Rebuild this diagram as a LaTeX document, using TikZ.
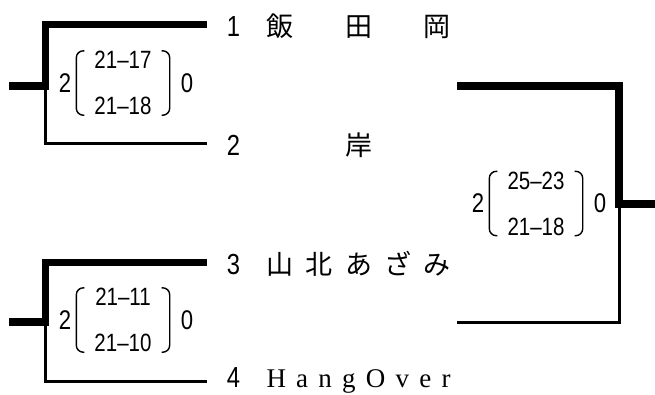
\documentclass[tikz,border=0pt]{standalone}
\usepackage{fontspec}
\usetikzlibrary{positioning}
\newfontfamily\numfont[FakeStretch=0.82]{Liberation Sans}
\newfontfamily\jpfont{Noto Sans CJK JP}
\newfontfamily\enfont{Liberation Serif}
\newcommand{\spreadname}[1]{\makebox[184pt][s]{#1}}
\begin{document}
\begin{tikzpicture}[x=1pt,y=-1pt,
	win/.style={line width=7.5pt},
	lose/.style={line width=3pt},
	seed/.style={anchor=base,inner sep=0,font=\numfont\fontsize{29}{29}\selectfont},
	player/.style={inner sep=0,font=\jpfont\fontsize{27}{27}\selectfont},
	games/.style={inner sep=0,minimum width=93pt,minimum height=64pt,align=center,font=\numfont\fontsize{25}{46}\selectfont},
	sets/.style={inner sep=0,font=\numfont\fontsize{27}{27}\selectfont},
	paren/.style={line width=1.4pt,rounded corners=7pt}]
	\useasboundingbox (0,0) rectangle (655,394);
	% entries
	\foreach \i/\y/\b in {1/24.5/36.5,2/143.5/155.5,3/262.5/274.5,4/381.5/387.5}{
		\coordinate (e\i) at (207,\y);
		\node[seed] (s\i) at (233.5,\b) {\i};
	}
	\node[player,base right=26pt of s1] (n1) {\spreadname{飯\hfill 田\hfill 岡}};
	\node[player,base right=26pt of s2] (n2) {\makebox[184pt]{岸}};
	\node[player,base right=26pt of s3] (n3) {\spreadname{山\hfill 北\hfill あ\hfill ざ\hfill み}};
	\node[player,base right=26pt of s4,font=\enfont\fontsize{27}{27}\selectfont] (n4) {\spreadname{H\hfill a\hfill n\hfill g\hfill O\hfill v\hfill e\hfill r}};
	% brackets
	\coordinate (ca) at (45.5,86);
	\coordinate (cb) at (45.5,322);
	\coordinate (wa) at (9,86);
	\coordinate (wb) at (9,322);
	\coordinate (f1) at (457,86);
	\coordinate (f2) at (457,322);
	\coordinate (cf) at (619,204);
	\coordinate (wf) at (655,204);
	\draw[win] (e1) -| (ca) -- (wa);
	\draw[lose] (e2) -| (ca);
	\draw[win] (e3) -| (cb) -- (wb);
	\draw[lose] (e4) -| (cb);
	\draw[win] (f1) -| (cf) -- (wf);
	\draw[lose] (f2) -| (cf);
	% scores
	\foreach \g/\x/\y/\top/\bot in {a/123/83/21–17/21–18,b/123/320/21–11/21–10,f/536/203.5/25–23/21–18}{
		\node[games] (g\g) at (\x,\y) {\top\\\bot};
		\node[sets,left=5pt of g\g] (w\g) {2};
		\node[sets,right=11pt of g\g] (l\g) {0};
		\draw[paren] ([xshift=8pt]g\g.north west) -- (g\g.north west) -- (g\g.south west) -- ([xshift=8pt]g\g.south west);
		\draw[paren] ([xshift=-8pt]g\g.north east) -- (g\g.north east) -- (g\g.south east) -- ([xshift=-8pt]g\g.south east);
	}
\end{tikzpicture}
\end{document}
